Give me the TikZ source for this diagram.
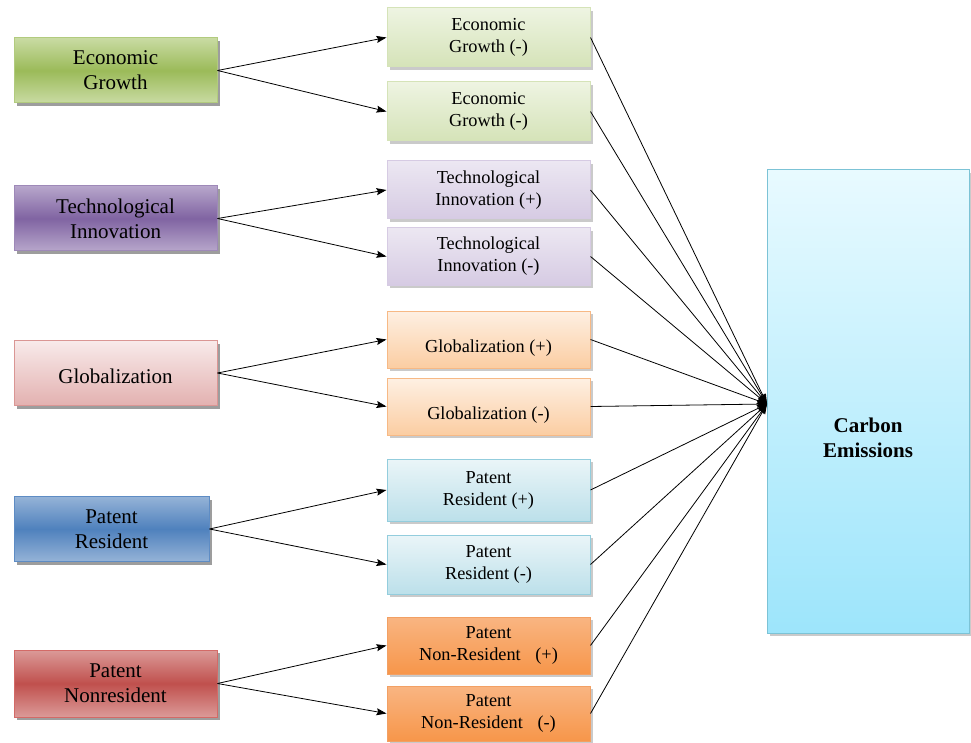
\documentclass[tikz,border=0pt]{standalone}
\usepackage{fontspec}
\setmainfont{Liberation Serif}
\usetikzlibrary{shadows,arrows.meta,calc}
\definecolor{gD}{HTML}{9BBB59}\definecolor{gL}{HTML}{C9DBA3}\definecolor{gB}{HTML}{B2CB7E}
\definecolor{gmT}{HTML}{EEF4E2}\definecolor{gmB}{HTML}{D5E3B8}
\definecolor{pD}{HTML}{8064A2}\definecolor{pL}{HTML}{B7A6CB}\definecolor{pB}{HTML}{9E89B8}
\definecolor{pmT}{HTML}{ECE7F2}\definecolor{pmB}{HTML}{D6CBE3}
\definecolor{rT}{HTML}{F8EAEA}\definecolor{rB2}{HTML}{E3B1B0}\definecolor{rBd}{HTML}{DA9694}
\definecolor{oT}{HTML}{FEF0E3}\definecolor{oB}{HTML}{FBCDA2}\definecolor{oBd}{HTML}{F7B985}
\definecolor{bD}{HTML}{4F81BD}\definecolor{bL}{HTML}{95B3D7}\definecolor{bB}{HTML}{5E8CC4}
\definecolor{bmT}{HTML}{EAF5F8}\definecolor{bmB}{HTML}{BCE0EA}\definecolor{bmBd}{HTML}{93CDDD}
\definecolor{nD}{HTML}{C0504D}\definecolor{nL}{HTML}{DB9A98}\definecolor{nB}{HTML}{D36A67}
\definecolor{qT}{HTML}{F9B582}\definecolor{qB}{HTML}{F7964A}\definecolor{qBd}{HTML}{F2A064}
\definecolor{cT}{HTML}{E8FAFF}\definecolor{cB}{HTML}{9DE5FB}\definecolor{cBd}{HTML}{7CC3D6}
\tikzset{
  shad/.style={drop shadow={shadow xshift=3pt,shadow yshift=-3pt,opacity=0.55,fill=black!70}},
  lightshad/.style={drop shadow={shadow xshift=3pt,shadow yshift=-3pt,opacity=0.35,fill=black!60}},
  lbox/.style={shad,draw,line width=1pt,minimum width=203pt,minimum height=65pt,inner sep=0pt,align=center,font=\fontsize{21}{25}\selectfont},
  mbox/.style={lightshad,draw,line width=1pt,minimum width=203pt,inner sep=0pt,align=center,font=\fontsize{18.3}{22}\selectfont},
  lgreen/.style={lbox,draw=gB,top color=gL,bottom color=gL,middle color=gD},
  lpurple/.style={lbox,draw=pB,top color=pL,bottom color=pL,middle color=pD},
  lpink/.style={lbox,draw=rBd,top color=rT,bottom color=rB2},
  lblue/.style={lbox,draw=bB,top color=bL,bottom color=bL,middle color=bD},
  lred/.style={lbox,draw=nB,top color=nL,bottom color=nL,middle color=nD},
  mgreen/.style={mbox,draw=gmB,top color=gmT,bottom color=gmB},
  mpurple/.style={mbox,draw=pmB,top color=pmT,bottom color=pmB},
  morange/.style={mbox,draw=oBd,top color=oT,bottom color=oB},
  mblue/.style={mbox,draw=bmBd,top color=bmT,bottom color=bmB},
  mdeep/.style={mbox,draw=qBd,top color=qT,bottom color=qB},
  conn/.style={line width=0.8pt,-{Stealth[length=10pt,width=7pt,inset=1.5pt]}},
}
\begin{document}
\begin{tikzpicture}[x=1pt,y=-1pt]
\useasboundingbox (0,0) rectangle (971,743);
% left boxes
\node[lgreen] (l1) at (115.5,70.5) {Economic\\Growth};
\node[lpurple] (l2) at (115.5,218.5) {Technological\\Innovation};
\node[lpink] (l3) at (115.5,373) {\raisebox{-10pt}[0pt][0pt]{Globalization}};
\node[lblue,minimum width=195pt] (l4) at (111.5,529) {Patent\\Resident};
\node[lred,minimum height=67pt] (l5) at (115.5,683.5) {Patent\\Nonresident};
% middle boxes
\node[mgreen,minimum height=59pt] (m1) at (488.5,37.5) {Economic\\Growth (-)};
\node[mgreen,minimum height=59pt] (m2) at (488.5,111.5) {Economic\\Growth (-)};
\node[mpurple,minimum height=58pt] (m3) at (488.5,190) {Technological\\Innovation (+)};
\node[mpurple,minimum height=57pt] (m4) at (488.5,256.5) {Technological\\Innovation (-)};
\node[morange,minimum height=57pt] (m5) at (488.5,339.5) {\raisebox{-13pt}[0pt][0pt]{Globalization (+)}};
\node[morange,minimum height=57pt] (m6) at (488.5,406.5) {\raisebox{-13pt}[0pt][0pt]{Globalization (-)}};
\node[mblue,minimum height=62pt] (m7) at (488.5,490) {Patent\\Resident (+)};
\node[mblue,minimum height=59pt] (m8) at (488.5,564.5) {Patent\\Resident (-)};
\node[mdeep,minimum height=57pt] (m9) at (488.5,645.5) {Patent\\Non-Resident\hspace{0.8em}(+)};
\node[mdeep,minimum height=55pt] (m10) at (488.5,713.5) {Patent\\Non-Resident\hspace{0.8em}(-)};
% carbon emissions
\node[lightshad,draw=cBd,line width=1pt,top color=cT,bottom color=cB,minimum width=202pt,minimum height=463pt,inner sep=0pt] (ce) at (868,401.5) {};
\node[align=center,font=\fontsize{21}{25}\selectfont\bfseries] (cet) at (868,438) {Carbon\\Emissions};
\coordinate (cin) at (767,404);
% connectors left -> middle
\draw[conn] (l1.east) -- (m1.west);
\draw[conn] (l1.east) -- (m2.west);
\draw[conn] (l2.east) -- (m3.west);
\draw[conn] (l2.east) -- (m4.west);
\draw[conn] (l3.east) -- (m5.west);
\draw[conn] (l3.east) -- (m6.west);
\draw[conn] (l4.east) -- (m7.west);
\draw[conn] (l4.east) -- (m8.west);
\draw[conn] (l5.east) -- (m9.west);
\draw[conn] (l5.east) -- (m10.west);
% connectors middle -> carbon
\foreach \m in {m1,m2,m3,m4,m5,m6,m7,m8,m9,m10}
  \draw[conn] (\m.east) -- (cin);
\end{tikzpicture}
\end{document}
